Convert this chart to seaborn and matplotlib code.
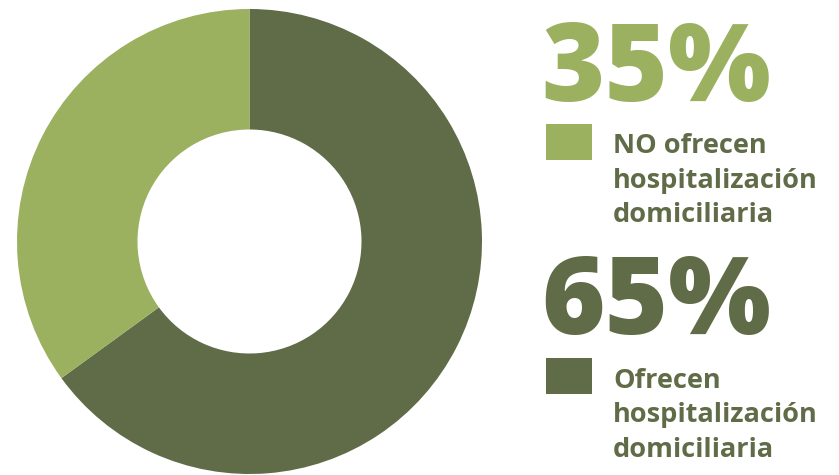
import matplotlib
matplotlib.use("Agg")
import matplotlib.pyplot as plt
import seaborn as sns

# Share of providers by home-hospitalisation service
categories = ["Ofrecen hospitalización domiciliaria", "NO ofrecen hospitalización domiciliaria"]
shares = [65, 35]
pct_labels = ["65%", "35%"]
legend_labels = ["Ofrecen\nhospitalización\ndomiciliaria", "NO ofrecen\nhospitalización\ndomiciliaria"]
colors = ["#606B47", "#9BB160"]

sns.set_theme(style="white")
plt.rcParams["font.family"] = ["Open Sans", "DejaVu Sans"]

W, H = 839, 475
fig = plt.figure(figsize=(W / 100, H / 100), dpi=100)
ax = fig.add_axes([0, 0, 1, 1])

# Donut: dark share starts at 12 o'clock and runs clockwise
cx, cy, r_out, r_in = 249.5, H - 241.5, 232.5, 112
ax.pie(shares, colors=colors, startangle=90, counterclock=False,
       center=(cx, cy), radius=r_out,
       wedgeprops=dict(width=r_out - r_in, edgecolor="none", linewidth=0))
ax.set_xlim(0, W)
ax.set_ylim(0, H)
ax.set_aspect("equal")
ax.axis("off")

text_color = "#606B47"

# Right-hand key: big percentage, colour square and description
blocks = [
    # (index, percent baseline y px, square top px, first text baseline y px)
    (1, 101, 124, 153),
    (0, 334, 358, 388),
]
for idx, pct_base, sq_top, txt_base in blocks:
    ax.text(541, H - pct_base, pct_labels[idx], color=colors[idx],
            fontsize=78, fontweight="heavy", ha="left", va="baseline")
    ax.add_patch(plt.Rectangle((546, H - sq_top - 36), 46, 36,
                               facecolor=colors[idx], edgecolor="none"))
    for k, line in enumerate(legend_labels[idx].split("\n")):
        ax.text(613, H - (txt_base + k * 34.5), line, color=text_color,
                fontsize=19.5, fontweight="bold", ha="left", va="baseline")

fig.savefig("out.png", dpi=100, facecolor="white")
